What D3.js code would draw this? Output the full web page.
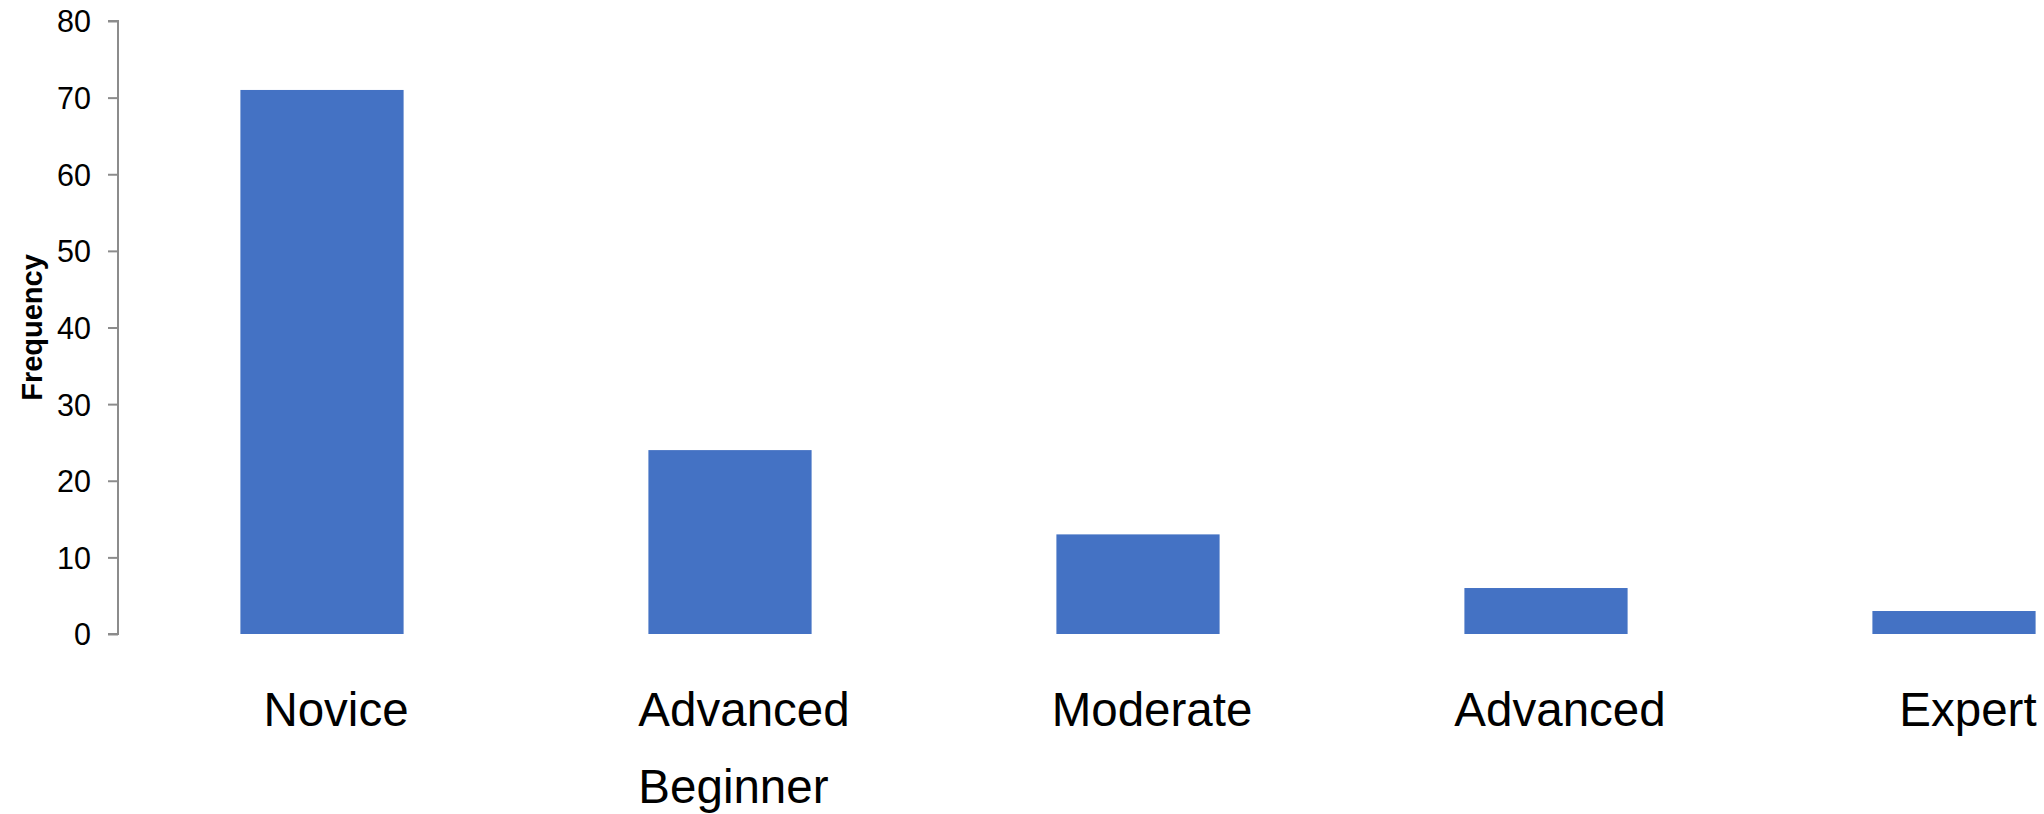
<!DOCTYPE html>
<html>
<head>
<meta charset="utf-8">
<script src="https://cdn.jsdelivr.net/npm/d3@7"></script>
<style>
  html, body { margin: 0; padding: 0; background: #ffffff; }
  svg { display: block; }
  text { font-family: "Liberation Sans", Arial, sans-serif; }
</style>
</head>
<body>
<svg id="chart" width="2044" height="814"></svg>
<script>
// Proficiency levels and how many respondents fall in each
const categories = ["Novice", "Advanced Beginner", "Moderate", "Advanced", "Expert"];
const frequencies = [71, 24, 13, 6, 3];
const yTicks = [0, 10, 20, 30, 40, 50, 60, 70, 80];
const yTitle = "Frequency";

const svg = d3.select("#chart");

const axisX = 118;
const plotTop = 21;
const plotBottom = 634;

const x = d3.scaleBand()
  .domain(categories)
  .range([axisX, axisX + 5 * 408])
  .paddingInner(0.6)
  .paddingOuter(0.3);

const y = d3.scaleLinear()
  .domain([0, 80])
  .range([plotBottom, plotTop]);

// Bars
svg.append("g")
  .selectAll("rect")
  .data(categories.map((c, i) => ({ c, v: frequencies[i] })))
  .join("rect")
  .attr("x", d => x(d.c))
  .attr("y", d => y(d.v))
  .attr("width", x.bandwidth())
  .attr("height", d => y(0) - y(d.v))
  .attr("fill", "#4472C4");

// Vertical axis
const yAxis = svg.append("g")
  .attr("transform", `translate(${axisX},0)`)
  .call(d3.axisLeft(y).tickValues(yTicks).tickSize(10).tickPadding(17).tickFormat(d3.format("d")));
yAxis.select(".domain").attr("stroke", "#8c8c8c").attr("stroke-width", 2)
  .attr("d", `M-10,${plotTop}H0V${plotBottom}H-10`);
yAxis.selectAll(".tick line").attr("stroke", "#8c8c8c").attr("stroke-width", 2);
yAxis.selectAll(".tick text")
  .attr("font-size", 30.5)
  .attr("font-family", "'Liberation Sans', Arial, sans-serif")
  .attr("fill", "#000")
  .attr("dy", "0.36em");

// Axis title
svg.append("text")
  .attr("transform", `translate(42,${(plotTop + plotBottom) / 2}) rotate(-90)`)
  .attr("text-anchor", "middle")
  .attr("font-size", 29)
  .attr("font-weight", "bold")
  .attr("fill", "#000")
  .text(yTitle);

// Category labels; long names wrap onto two left-aligned lines
const labels = svg.append("g")
  .selectAll("text")
  .data(categories)
  .join("text")
  .attr("y", 726)
  .attr("font-size", 47.5)
  .attr("fill", "#000");

labels.each(function (d) {
  const words = d.split(" ");
  const t = d3.select(this);
  const cx = x(d) + x.bandwidth() / 2 + 14;
  words.forEach((w, i) => {
    t.append("tspan")
      .attr("dy", i === 0 ? 0 : 77)
      .text(w);
  });
  const spans = t.selectAll("tspan");
  const widest = d3.max(spans.nodes(), n => n.getComputedTextLength());
  spans.attr("x", cx - widest / 2);
});
</script>
</body>
</html>
